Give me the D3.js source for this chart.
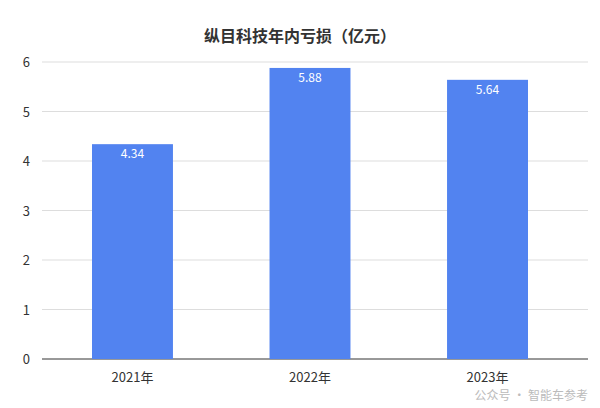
<!DOCTYPE html>
<html><head><meta charset="utf-8">
<script src="https://cdn.jsdelivr.net/npm/d3@7"></script>
<style>body{margin:0;background:#fff}text{font-family:"Noto Sans CJK SC","Noto Sans",sans-serif}</style>
</head><body><svg id="c" width="600" height="408"></svg>
<script>
const categories=["2021年","2022年","2023年"];
const values=[4.34,5.88,5.64];
const yTicks=[0,1,2,3,4,5,6];
const title="纵目科技年内亏损（亿元）";
const svg=d3.select("#c");
const m={l:42,r:588,t:62,b:359};
const x=d3.scaleBand().domain(categories).range([38.75,581.25]).paddingInner(0.544).paddingOuter(0.3);
const y=d3.scaleLinear().domain([0,6]).range([m.b,m.t]);
svg.append("g").selectAll("line").data(yTicks).join("line")
 .attr("x1",m.l).attr("x2",m.r).attr("y1",d=>y(d)).attr("y2",d=>y(d))
 .attr("stroke",d=>d===0?"#333":"#ddd").attr("stroke-width",1);
svg.append("g").selectAll("text").data(yTicks).join("text")
 .attr("x",30).attr("y",d=>y(d)+5).attr("text-anchor","end").attr("font-size",13).attr("fill","#333").text(d=>d);
svg.append("g").selectAll("rect").data(values).join("rect")
 .attr("x",(d,i)=>x(categories[i])).attr("width",x.bandwidth())
 .attr("y",d=>y(d)).attr("height",d=>y(0)-y(d)).attr("fill","#5283f0");
svg.append("g").selectAll("text").data(values).join("text")
 .attr("x",(d,i)=>x(categories[i])+x.bandwidth()/2).attr("y",d=>y(d)+14)
 .attr("text-anchor","middle").attr("font-size",12).attr("fill","#fff").text(d=>d.toFixed(2));
svg.append("g").selectAll("text").data(categories).join("text")
 .attr("x",d=>x(d)+x.bandwidth()/2).attr("y",382).attr("text-anchor","middle")
 .attr("font-size",13).attr("fill","#333").text(d=>d);
svg.append("text").attr("x",300).attr("y",42).attr("text-anchor","middle")
 .attr("font-size",16).attr("font-weight","bold").attr("fill","#333").text(title);
svg.append("text").attr("x",588).attr("y",400).attr("text-anchor","end")
 .attr("font-size",12).attr("fill","#bbb").text("公众号 · 智能车参考");
</script></body></html>
